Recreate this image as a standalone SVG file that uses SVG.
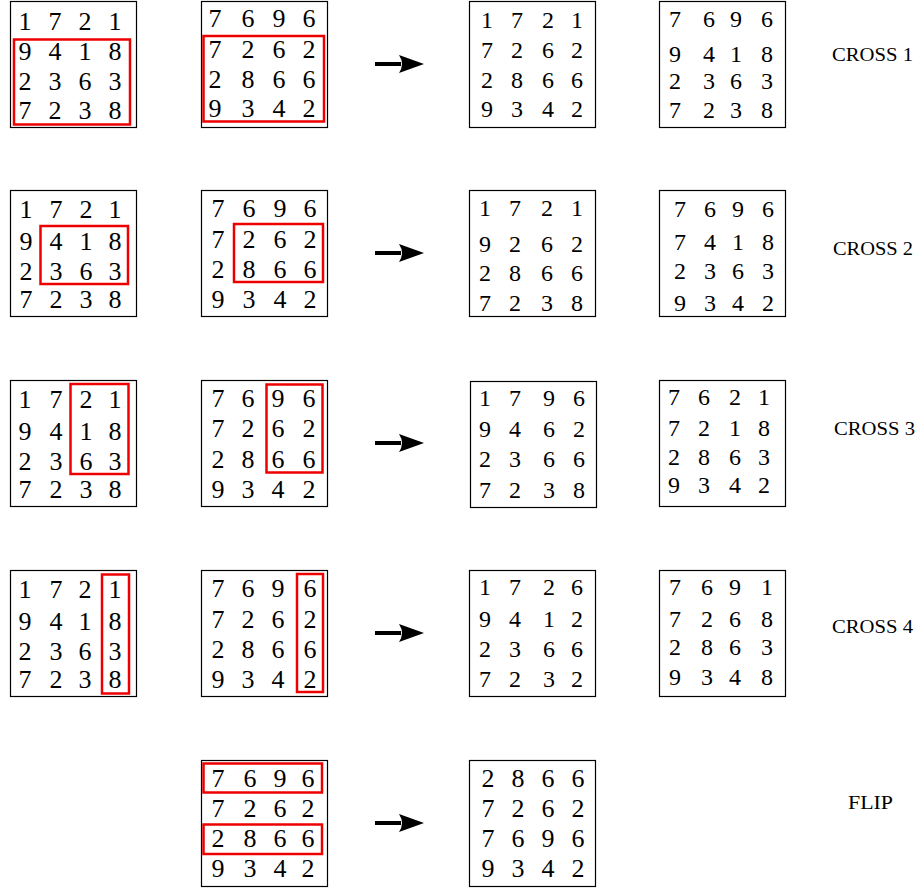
<svg xmlns="http://www.w3.org/2000/svg" width="917" height="890" viewBox="0 0 917 890">
<style>
.bx{fill:#fff;stroke:#000;stroke-width:1.2}
.hl{fill:none;stroke:#e00;stroke-width:2.5}
.d{font-family:"Liberation Serif","Times New Roman",serif;font-size:26px;fill:#000;text-anchor:middle}
.r{font-size:24px}
.lb{font-family:"Liberation Serif","Times New Roman",serif;font-size:19px;fill:#000}
.ar{stroke:#000;stroke-width:4;fill:none}
</style>
<defs>
<marker id="ah" markerUnits="userSpaceOnUse" markerWidth="28" markerHeight="22" refX="2" refY="11" orient="auto">
<path d="M0,2 L25,11 L0,20 Q6,11 0,2 Z" fill="#000"/>
</marker>
</defs>
<rect width="917" height="890" fill="#fff"/>

<!-- Row 1 -->
<g id="r1b1">
<rect class="bx" x="10.5" y="1.5" width="126" height="126"/>
<text class="d" x="25 55 85 115" y="29.5">1721</text>
<text class="d" x="25 55 85 115" y="60">9418</text>
<text class="d" x="25 55 85 115" y="89.5">2363</text>
<text class="d" x="25 55 85 115" y="119">7238</text>
<rect class="hl" x="14" y="39.5" width="116" height="85"/>
</g>
<g id="r1b2">
<rect class="bx" x="201.5" y="1.5" width="126" height="126"/>
<text class="d" x="215 248 279 309" y="27">7696</text>
<text class="d" x="215 248 279 309" y="58">7262</text>
<text class="d" x="215 248 279 309" y="88">2866</text>
<text class="d" x="215 248 279 309" y="117">9342</text>
<rect class="hl" x="203.5" y="36" width="120.5" height="85.5"/>
</g>
<g id="r1b3">
<rect class="bx" x="469.5" y="1.5" width="126" height="126"/>
<text class="d r" x="487 517 548 577" y="28">1721</text>
<text class="d r" x="487 517 548 577" y="58">7262</text>
<text class="d r" x="487 517 548 577" y="88">2866</text>
<text class="d r" x="487 517 548 577" y="117">9342</text>
</g>
<g id="r1b4">
<rect class="bx" x="659.5" y="1.5" width="126" height="126"/>
<text class="d r" x="675 709 736 767" y="27">7696</text>
<text class="d r" x="675 709 736 767" y="62">9418</text>
<text class="d r" x="675 709 736 767" y="89">2363</text>
<text class="d r" x="675 709 736 767" y="118">7238</text>
</g>
<g id="lab1"><text class="lb" x="832" y="61" textLength="81" lengthAdjust="spacingAndGlyphs">CROSS 1</text></g>

<!-- Row 2 -->
<g id="r2b1">
<rect class="bx" x="10.5" y="190.5" width="126" height="126"/>
<text class="d" x="26 56 86 115" y="218">1721</text>
<text class="d" x="26 56 86 115" y="250">9418</text>
<text class="d" x="26 56 86 115" y="280">2363</text>
<text class="d" x="26 56 86 115" y="308">7238</text>
<rect class="hl" x="40.5" y="226" width="87.5" height="58"/>
</g>
<g id="r2b2">
<rect class="bx" x="201.5" y="190.5" width="126" height="126"/>
<text class="d" x="218 249 280 310" y="217">7696</text>
<text class="d" x="218 249 280 310" y="248">7262</text>
<text class="d" x="218 249 280 310" y="278">2866</text>
<text class="d" x="218 249 280 310" y="308">9342</text>
<rect class="hl" x="234" y="224" width="89" height="58"/>
</g>
<g id="r2b3">
<rect class="bx" x="469.5" y="190.5" width="126" height="126"/>
<text class="d r" x="485 515 547 577" y="216">1721</text>
<text class="d r" x="485 515 547 577" y="252">9262</text>
<text class="d r" x="485 515 547 577" y="281">2866</text>
<text class="d r" x="485 515 547 577" y="311">7238</text>
</g>
<g id="r2b4">
<rect class="bx" x="659.5" y="190.5" width="126" height="126"/>
<text class="d r" x="680 710 738 768" y="217">7696</text>
<text class="d r" x="680 710 738 768" y="250">7418</text>
<text class="d r" x="680 710 738 768" y="279">2363</text>
<text class="d r" x="680 710 738 768" y="311">9342</text>
</g>
<g id="lab2"><text class="lb" x="833" y="255" textLength="80" lengthAdjust="spacingAndGlyphs">CROSS 2</text></g>

<!-- Row 3 -->
<g id="r3b1">
<rect class="bx" x="10.5" y="380.5" width="126" height="126"/>
<text class="d" x="25 56 86 115" y="408">1721</text>
<text class="d" x="25 56 86 115" y="440">9418</text>
<text class="d" x="25 56 86 115" y="470">2363</text>
<text class="d" x="25 56 86 115" y="498">7238</text>
<rect class="hl" x="70.5" y="384" width="58" height="90"/>
</g>
<g id="r3b2">
<rect class="bx" x="201.5" y="380.5" width="126" height="126"/>
<text class="d" x="218 248 278 309" y="407">7696</text>
<text class="d" x="218 248 278 309" y="437">7262</text>
<text class="d" x="218 248 278 309" y="468">2866</text>
<text class="d" x="218 248 278 309" y="498">9342</text>
<rect class="hl" x="266.5" y="384.5" width="56" height="88"/>
</g>
<g id="r3b3">
<rect class="bx" x="470.5" y="381.5" width="126" height="126"/>
<text class="d r" x="485 515 549 579" y="406">1796</text>
<text class="d r" x="485 515 549 579" y="437">9462</text>
<text class="d r" x="485 515 549 579" y="467">2366</text>
<text class="d r" x="485 515 549 579" y="498">7238</text>
</g>
<g id="r3b4">
<rect class="bx" x="659.5" y="380.5" width="126" height="126"/>
<text class="d r" x="674 704 735 764" y="405">7621</text>
<text class="d r" x="674 704 735 764" y="436">7218</text>
<text class="d r" x="674 704 735 764" y="465">2863</text>
<text class="d r" x="674 704 735 764" y="493">9342</text>
</g>
<g id="lab3"><text class="lb" x="834" y="435" textLength="81" lengthAdjust="spacingAndGlyphs">CROSS 3</text></g>

<!-- Row 4 -->
<g id="r4b1">
<rect class="bx" x="10.5" y="570.5" width="126" height="126"/>
<text class="d" x="25 56 85 115" y="598">1721</text>
<text class="d" x="25 56 85 115" y="630">9418</text>
<text class="d" x="25 56 85 115" y="660">2363</text>
<text class="d" x="25 56 85 115" y="688">7238</text>
<rect class="hl" x="102" y="574.5" width="27" height="119"/>
</g>
<g id="r4b2">
<rect class="bx" x="201.5" y="570.5" width="126" height="126"/>
<text class="d" x="218 248 278 310" y="597">7696</text>
<text class="d" x="218 248 278 310" y="628">7262</text>
<text class="d" x="218 248 278 310" y="658">2866</text>
<text class="d" x="218 248 278 310" y="688">9342</text>
<rect class="hl" x="297" y="574" width="26" height="118"/>
</g>
<g id="r4b3">
<rect class="bx" x="469.5" y="570.5" width="126" height="126"/>
<text class="d r" x="485 515 549 577" y="595">1726</text>
<text class="d r" x="485 515 549 577" y="627">9412</text>
<text class="d r" x="485 515 549 577" y="657">2366</text>
<text class="d r" x="485 515 549 577" y="687">7232</text>
</g>
<g id="r4b4">
<rect class="bx" x="659.5" y="570.5" width="126" height="126"/>
<text class="d r" x="675 707 735 767" y="595">7691</text>
<text class="d r" x="675 707 735 767" y="627">7268</text>
<text class="d r" x="675 707 735 767" y="655">2863</text>
<text class="d r" x="675 707 735 767" y="685">9348</text>
</g>
<g id="lab4"><text class="lb" x="832" y="633" textLength="81" lengthAdjust="spacingAndGlyphs">CROSS 4</text></g>

<!-- Row 5 -->
<g id="r5b2">
<rect class="bx" x="201.5" y="760.5" width="126" height="126"/>
<text class="d" x="218 250 280 308" y="787">7696</text>
<text class="d" x="218 250 280 308" y="817">7262</text>
<text class="d" x="218 250 280 308" y="847">2866</text>
<text class="d" x="218 250 280 308" y="877">9342</text>
<rect class="hl" x="203.5" y="763.5" width="118.5" height="29"/>
<rect class="hl" x="203.5" y="824.5" width="118.5" height="29.5"/>
</g>
<g id="r5b3">
<rect class="bx" x="469.5" y="760.5" width="126" height="126"/>
<text class="d" x="488 518 548 578" y="787">2866</text>
<text class="d" x="488 518 548 578" y="817">7262</text>
<text class="d" x="488 518 548 578" y="847">7696</text>
<text class="d" x="488 518 548 578" y="877">9342</text>
</g>
<g id="lab5"><text class="lb" x="848" y="809" textLength="45" lengthAdjust="spacingAndGlyphs">FLIP</text></g>

<!-- Connectors -->
<g id="connectors">
<line class="ar" x1="375" y1="64" x2="401" y2="64" marker-end="url(#ah)"/>
<line class="ar" x1="375" y1="253" x2="401" y2="253" marker-end="url(#ah)"/>
<line class="ar" x1="375" y1="443" x2="401" y2="443" marker-end="url(#ah)"/>
<line class="ar" x1="375" y1="633" x2="401" y2="633" marker-end="url(#ah)"/>
<line class="ar" x1="375" y1="823" x2="401" y2="823" marker-end="url(#ah)"/>
</g>
</svg>
